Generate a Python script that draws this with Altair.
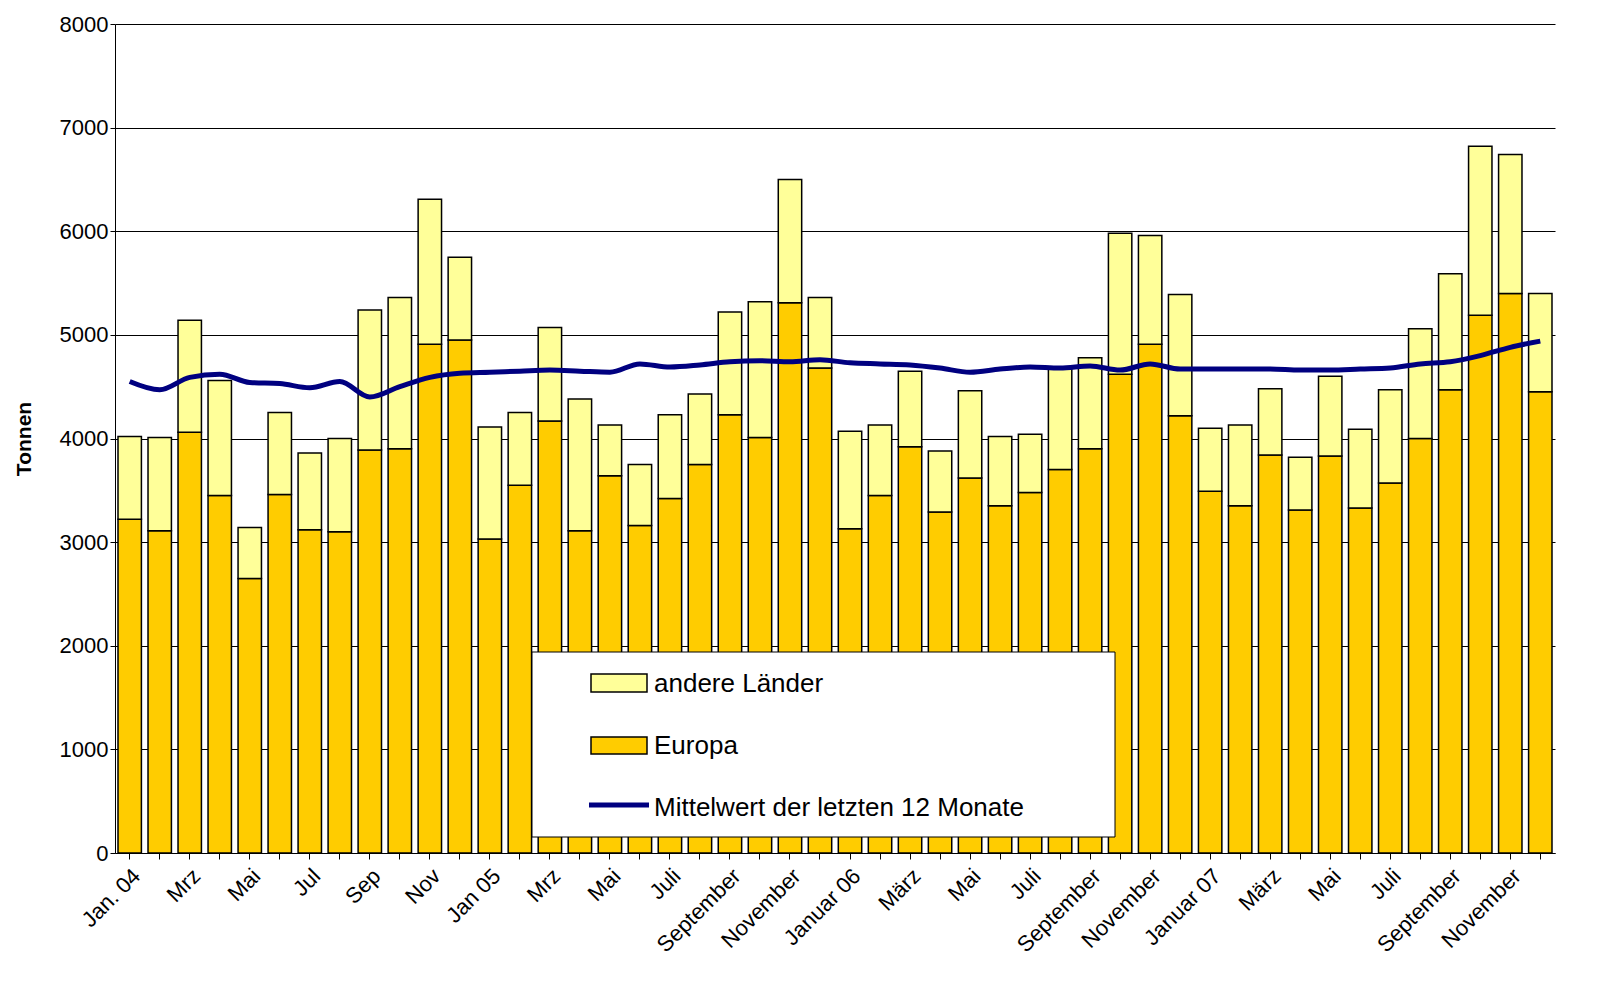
import pandas as pd
import altair as alt

total = [4020, 4010, 5140, 4560, 3140, 4250, 3860, 4000, 5240, 5360, 6310, 5750,
         4110, 4250, 5070, 4380, 4130, 3750, 4230, 4430, 5220, 5320, 6500, 5360,
         4070, 4130, 4650, 3880, 4460, 4020, 4040, 4680, 4780, 5980, 5960, 5390,
         4100, 4130, 4480, 3820, 4600, 4090, 4470, 5060, 5590, 6820, 6740, 5400]
europa = [3220, 3110, 4060, 3450, 2650, 3460, 3120, 3100, 3890, 3900, 4910, 4950,
          3030, 3550, 4170, 3110, 3640, 3160, 3420, 3750, 4230, 4010, 5310, 4680,
          3130, 3450, 3920, 3290, 3620, 3350, 3480, 3700, 3900, 4620, 4910, 4220,
          3490, 3350, 3840, 3310, 3830, 3330, 3570, 4000, 4470, 5190, 5400, 4450]
mittel = [4550, 4470, 4590, 4620, 4540, 4530, 4490, 4550, 4400, 4500, 4590, 4630,
          4640, 4650, 4660, 4650, 4640, 4720, 4690, 4710, 4740, 4750, 4740, 4760,
          4730, 4720, 4710, 4680, 4640, 4670, 4690, 4680, 4700, 4660, 4720, 4670,
          4670, 4670, 4670, 4660, 4660, 4670, 4680, 4720, 4740, 4800, 4880, 4940]
tick_labels = ["Jan. 04", "Mrz", "Mai", "Jul", "Sep", "Nov",
               "Jan 05", "Mrz", "Mai", "Juli", "September", "November",
               "Januar 06", "März", "Mai", "Juli", "September", "November",
               "Januar 07", "März", "Mai", "Juli", "September", "November"]

FONT = "Liberation Sans"
n = len(total)
df = pd.DataFrame({"i": list(range(n)), "total": total, "europa": europa,
                   "andere": [t - e for t, e in zip(total, europa)], "mittel": mittel})
bars = df.melt(id_vars=["i"], value_vars=["europa", "andere"], var_name="art", value_name="wert")
bars["ord"] = bars["art"].map({"europa": 0, "andere": 1})

labels_js = "[" + ",".join('"%s"' % s for s in tick_labels) + "]"
x_axis = alt.Axis(title=None, labelAngle=-45, labelFontSize=22, labelFont=FONT,
                  labelExpr=f"datum.value % 2 == 0 ? {labels_js}[datum.value / 2] : ''",
                  domainColor="black", tickColor="black", tickSize=6, labelColor="black",
                  labelPadding=6)
xs = alt.Scale(paddingInner=0.22, paddingOuter=0.1)

bar = alt.Chart(bars).mark_bar(stroke="black", strokeWidth=1.5).encode(
    x=alt.X("i:O", scale=xs, axis=x_axis),
    y=alt.Y("wert:Q", stack="zero", scale=alt.Scale(domain=[0, 8000]),
            axis=alt.Axis(title="Tonnen", titleFontSize=21, titleFont=FONT, titleFontWeight="bold",
                          labelFontSize=22, labelFont=FONT, values=list(range(0, 8001, 1000)),
                          format="d", gridColor="black", gridWidth=1, domainColor="black",
                          tickColor="black", labelColor="black", titleColor="black",
                          titlePadding=25)),
    color=alt.Color("art:N", scale=alt.Scale(domain=["europa", "andere"], range=["#FFCC00", "#FFFF99"]),
                    legend=None),
    order=alt.Order("ord:Q"),
)

line = alt.Chart(df).mark_line(color="#000080", strokeWidth=5, interpolate="monotone").encode(
    x=alt.X("i:O", scale=xs, bandPosition=0.5), y="mittel:Q")

dummy = pd.DataFrame({"a": [0]})
base = alt.Chart(dummy)
box = base.mark_rect(fill="white", stroke="black", strokeWidth=1).encode(
    x=alt.value(417), x2=alt.value(1000), y=alt.value(628), y2=alt.value(813))
sw1 = base.mark_rect(fill="#FFFF99", stroke="black", strokeWidth=1.5).encode(
    x=alt.value(476), x2=alt.value(532), y=alt.value(650), y2=alt.value(668))
sw2 = base.mark_rect(fill="#FFCC00", stroke="black", strokeWidth=1.5).encode(
    x=alt.value(476), x2=alt.value(532), y=alt.value(713), y2=alt.value(730))
sw3 = base.mark_rule(color="#000080", strokeWidth=5).encode(
    x=alt.value(474), x2=alt.value(534), y=alt.value(781))
txt = []
for label, yy in [("andere Länder", 660), ("Europa", 722), ("Mittelwert der letzten 12 Monate", 784)]:
    txt.append(base.mark_text(text=label, align="left", baseline="middle", fontSize=26, font=FONT,
                              color="black").encode(x=alt.value(539), y=alt.value(yy)))

chart = alt.layer(bar, line, box, sw1, sw2, sw3, *txt).properties(
    width=1440, height=829, background="white"
).configure_view(stroke=None).configure_axisX(grid=False)

chart.save("out.html", embed_options={"renderer": "svg", "actions": False})
